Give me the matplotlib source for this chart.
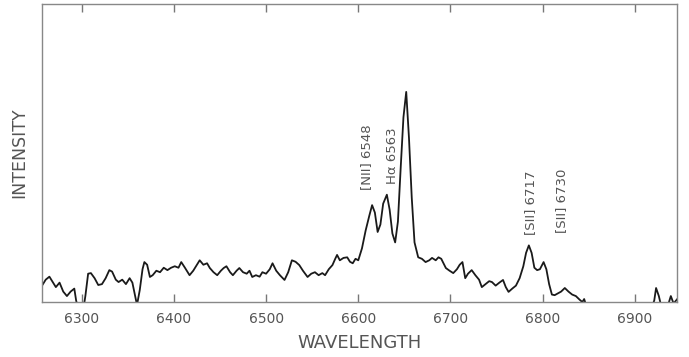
import matplotlib
matplotlib.use("Agg")
import matplotlib.pyplot as plt

# spectrum (wavelength in Angstrom, intensity in arbitrary units)
wavelength = [6257, 6261, 6265, 6268, 6272, 6276, 6280, 6284, 6288, 6292, 6294, 6296,
              6302, 6304, 6307, 6310, 6314, 6318, 6322, 6326, 6330, 6333, 6337, 6340,
              6344, 6348, 6352, 6355, 6358, 6360, 6363, 6366, 6368, 6371, 6374, 6377,
              6381, 6385, 6389, 6393, 6397, 6401, 6405, 6408, 6412, 6417, 6421, 6425,
              6428, 6432, 6436, 6439, 6443, 6447, 6451, 6454, 6457, 6461, 6464, 6468,
              6471, 6475, 6479, 6482, 6485, 6489, 6493, 6496, 6500, 6504, 6507, 6511,
              6515, 6520, 6524, 6528, 6532, 6536, 6540, 6545, 6549, 6553, 6557, 6561,
              6564, 6568, 6572, 6575, 6577, 6580, 6584, 6588, 6591, 6594, 6597, 6600,
              6604, 6608, 6612, 6615, 6618, 6621, 6624, 6627, 6631, 6634, 6637, 6640,
              6643, 6646, 6649, 6652, 6655, 6658, 6661, 6665, 6669, 6673, 6677, 6680,
              6684, 6687, 6690, 6695, 6699, 6703, 6707, 6710, 6713, 6716, 6719, 6723,
              6727, 6731, 6734, 6738, 6742, 6745, 6749, 6753, 6757, 6760, 6763, 6767,
              6771, 6775, 6779, 6782, 6785, 6788, 6791, 6794, 6797, 6801, 6804, 6807,
              6810, 6813, 6817, 6820, 6824, 6828, 6832, 6836, 6840, 6843, 6845, 6847,
              6850, 6900, 6918, 6921, 6923, 6926, 6929, 6933, 6936, 6939, 6942, 6946]
intensity = [5.5, 7.5, 8.5, 7.0, 5.0, 6.5, 3.5, 2.0, 3.5, 4.5, 0.5, -2.0,
             -2.0, 2.0, 9.5, 9.7, 8.0, 5.7, 6.0, 8.0, 10.7, 10.2, 7.5, 6.7,
             7.5, 6.0, 8.0, 6.5, 2.0, -1.0, 4.0, 11.0, 13.4, 12.5, 8.4, 9.0,
             10.5, 10.0, 11.5, 10.7, 11.5, 12.0, 11.5, 13.4, 11.5, 9.0, 10.5, 12.5,
             14.0, 12.5, 13.0, 11.4, 10.0, 9.0, 10.5, 11.4, 12.0, 10.0, 9.0, 10.5,
             11.4, 10.0, 9.5, 10.5, 8.4, 9.0, 8.5, 10.0, 9.5, 11.0, 13.0, 10.5,
             9.0, 7.4, 10.0, 14.0, 13.5, 12.4, 10.5, 8.4, 9.5, 10.0, 9.0, 9.7,
             9.0, 11.0, 12.4, 14.5, 15.8, 14.0, 14.8, 15.0, 13.5, 13.0, 14.5, 14.0,
             18.0, 24.0, 29.0, 32.5, 30.0, 23.5, 26.0, 33.0, 36.0, 31.0, 23.0, 20.0,
             27.0, 45.0, 62.0, 70.5, 55.0, 35.0, 20.0, 15.0, 14.5, 13.4, 14.0, 14.8,
             14.0, 15.0, 14.5, 11.4, 10.5, 9.7, 11.0, 12.5, 13.4, 8.0, 9.5, 10.7,
             9.0, 7.5, 5.0, 6.0, 7.0, 6.7, 5.5, 6.5, 7.4, 5.0, 3.4, 4.5,
             5.5, 8.0, 12.0, 16.5, 19.0, 16.5, 11.5, 10.7, 11.0, 13.4, 11.0, 6.0,
             2.5, 2.3, 3.0, 3.5, 4.7, 3.5, 2.5, 2.0, 0.8, 0.0, 1.0, -1.0,
             -2.0, -2.0, -2.0, 0.5, 4.7, 2.0, -2.0, -2.0, -1.0, 2.0, -0.5, 1.0]

ticks = [6300, 6400, 6500, 6600, 6700, 6800, 6900]

line_labels = ["[NII] 6548", "H\u03b1 6563", "[SII] 6717", "[SII] 6730"]
label_x = [6609, 6637, 6787, 6820]
label_y = [37.5, 39.5, 22.5, 23.0]

fig = plt.figure(figsize=(6.89, 3.57), dpi=100)
ax = fig.add_axes([0.061, 0.154, 0.922, 0.835])

ax.plot(wavelength, intensity, color="#1a1a1a", lw=1.3)

ax.set_xlim(6257, 6946)
ax.set_ylim(0, 100)
ax.set_xticks(ticks)
ax.set_yticks([])
ax.tick_params(axis="x", direction="in", top=True, length=6, width=1,
               color="#777777", labelcolor="#555555", labelsize=10, pad=7)
for s in ax.spines.values():
    s.set_color("#888888")
    s.set_linewidth(1.0)

for txt, x, y in zip(line_labels, label_x, label_y):
    ax.text(x, y, txt, rotation=90, ha="center", va="bottom",
            fontsize=9.5, color="#555555")

ax.set_xlabel("WAVELENGTH", fontsize=13, color="#555555", labelpad=6)
ax.set_ylabel("INTENSITY", fontsize=12.5, color="#555555", labelpad=10)

fig.savefig("out.png", dpi=100)
